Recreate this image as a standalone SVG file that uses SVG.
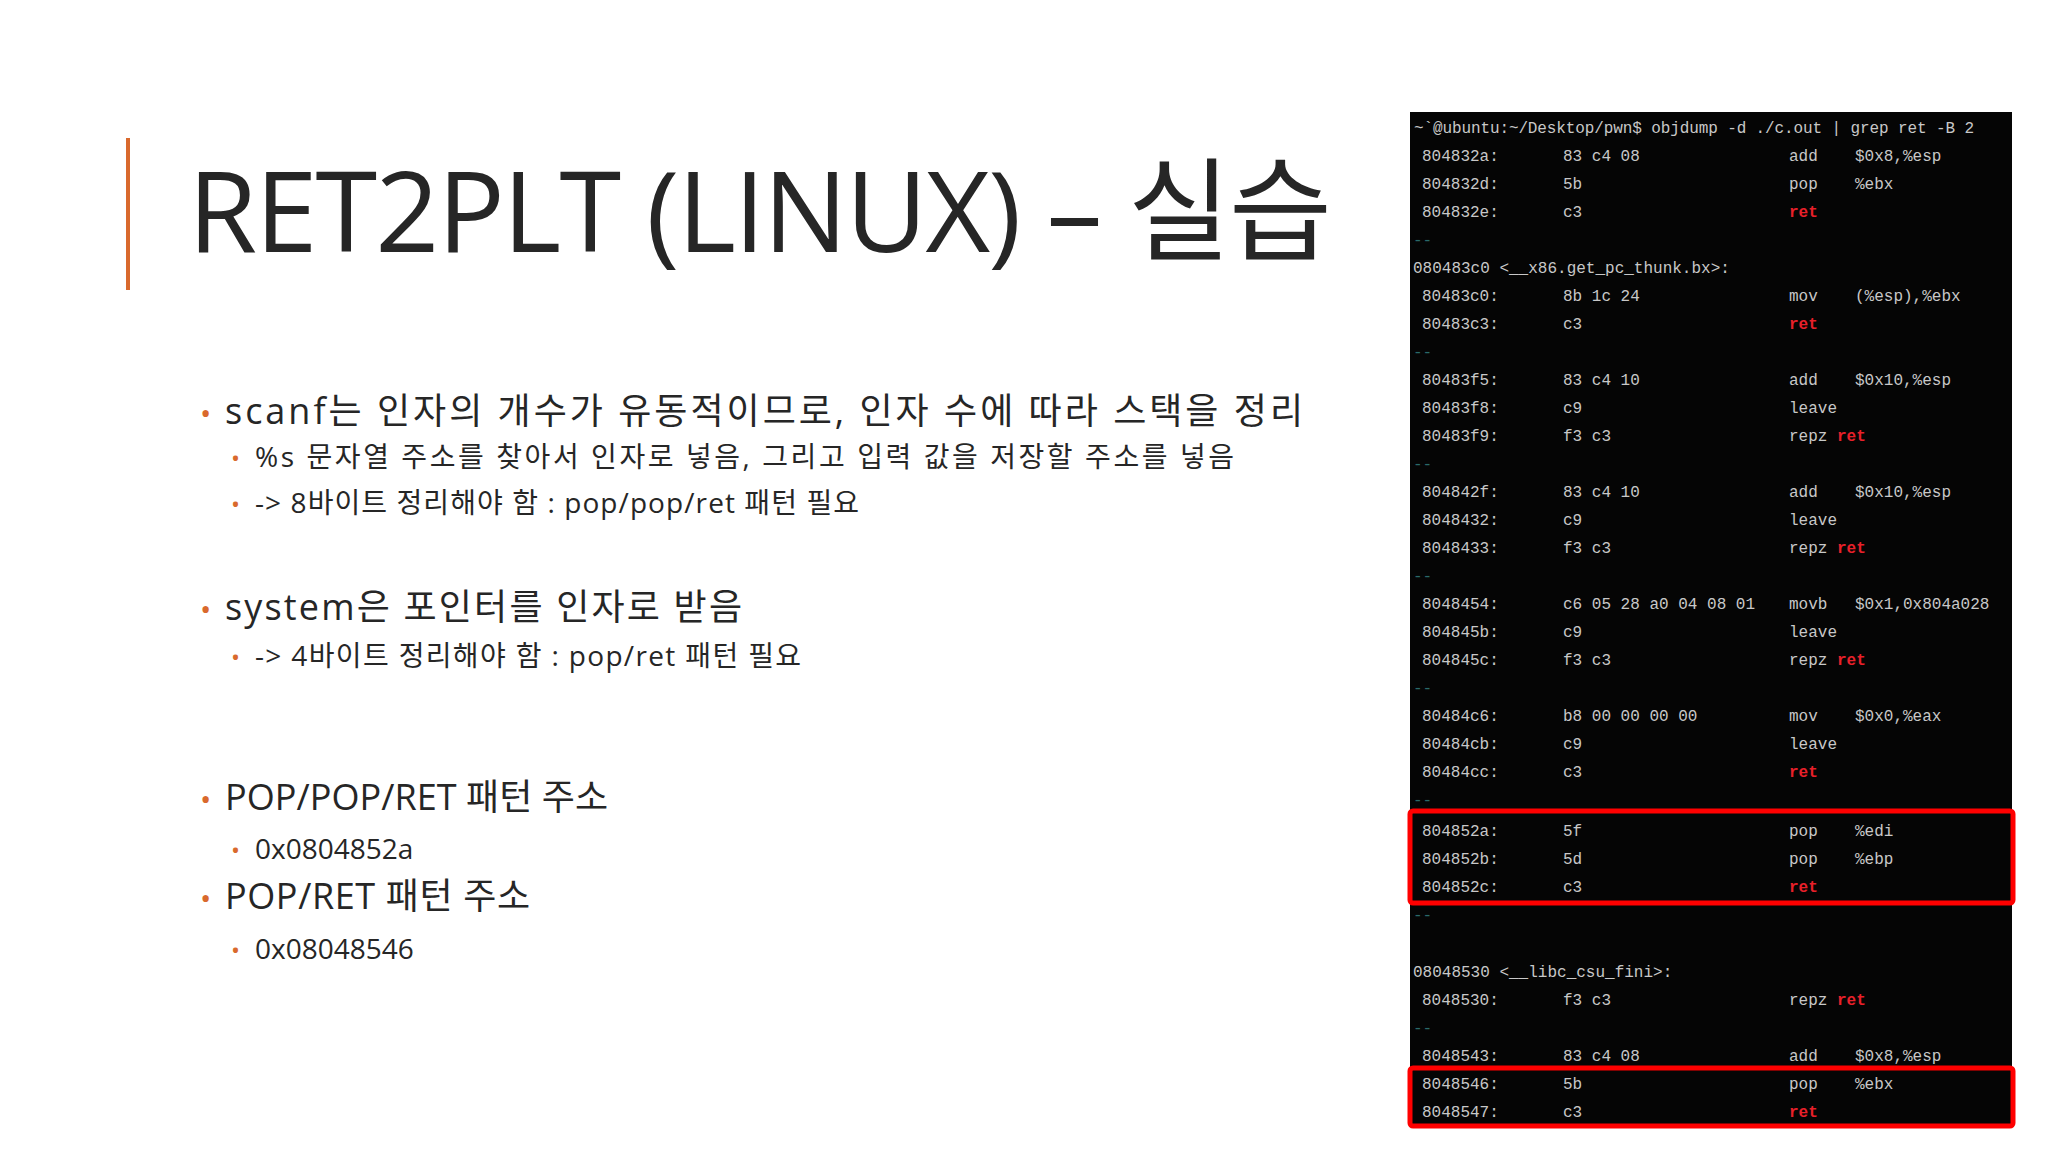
<svg xmlns="http://www.w3.org/2000/svg" width="2048" height="1152" viewBox="0 0 2048 1152">
<style>
.t{font-family:"Open Sans","Noto Sans CJK KR",sans-serif;fill:#262626}
.b{font-family:"Open Sans",sans-serif;fill:#D9692D}
.m{font-family:"Liberation Mono","DejaVu Sans Mono",monospace;font-size:16px;fill:#c8c8c8}
.r{fill:#e8202a;font-weight:bold}
.d{fill:#2a6a6a}
</style>
<rect width="2048" height="1152" fill="#ffffff"/>
<g id="title">
<rect x="126" y="138" width="4" height="152" fill="#D9692D"/>
<text class="t" x="188" y="252" font-size="112" textLength="1144">RET2PLT (LINUX) – 실습</text>
</g>
<g id="bullets">
<text class="b" x="200" y="424" font-size="30">•</text>
<text class="t" x="225" y="424" font-size="36" textLength="1078">scanf는 인자의 개수가 유동적이므로, 인자 수에 따라 스택을 정리</text>
<text class="b" x="231" y="467" font-size="24">•</text>
<text class="t" x="255" y="467" font-size="28" textLength="979">%s 문자열 주소를 찾아서 인자로 넣음, 그리고 입력 값을 저장할 주소를 넣음</text>
<text class="b" x="231" y="513" font-size="24">•</text>
<text class="t" x="255" y="513" font-size="28" textLength="604">-&gt; 8바이트 정리해야 함 : pop/pop/ret 패턴 필요</text>
<text class="b" x="200" y="620" font-size="30">•</text>
<text class="t" x="225" y="620" font-size="36" textLength="517">system은 포인터를 인자로 받음</text>
<text class="b" x="231" y="666" font-size="24">•</text>
<text class="t" x="255" y="666" font-size="28" textLength="546">-&gt; 4바이트 정리해야 함 : pop/ret 패턴 필요</text>
<text class="b" x="200" y="810" font-size="30">•</text>
<text class="t" x="225" y="810" font-size="36" textLength="383">POP/POP/RET 패턴 주소</text>
<text class="b" x="231" y="859" font-size="24">•</text>
<text class="t" x="255" y="859" font-size="28">0x0804852a</text>
<text class="b" x="200" y="909" font-size="30">•</text>
<text class="t" x="225" y="909" font-size="36" textLength="305">POP/RET 패턴 주소</text>
<text class="b" x="231" y="959" font-size="24">•</text>
<text class="t" x="255" y="959" font-size="28">0x08048546</text>
</g>
<g id="terminal">
<rect x="1410" y="112" width="602" height="1014" fill="#050505"/>
<text class="m" x="1414" y="133" textLength="560">~`@ubuntu:~/Desktop/pwn$ objdump -d ./c.out | grep ret -B 2</text>
<g class="m">
<text x="1422" y="161">804832a:</text><text x="1563" y="161">83 c4 08</text><text x="1789" y="161">add</text><text x="1855" y="161">$0x8,%esp</text>
<text x="1422" y="189">804832d:</text><text x="1563" y="189">5b</text><text x="1789" y="189">pop</text><text x="1855" y="189">%ebx</text>
<text x="1422" y="217">804832e:</text><text x="1563" y="217">c3</text><text x="1789" y="217" class="r">ret</text>
<text x="1413" y="245" class="d">--</text>
<text x="1413" y="273">080483c0 &lt;__x86.get_pc_thunk.bx&gt;:</text>
<text x="1422" y="301">80483c0:</text><text x="1563" y="301">8b 1c 24</text><text x="1789" y="301">mov</text><text x="1855" y="301">(%esp),%ebx</text>
<text x="1422" y="329">80483c3:</text><text x="1563" y="329">c3</text><text x="1789" y="329" class="r">ret</text>
<text x="1413" y="357" class="d">--</text>
<text x="1422" y="385">80483f5:</text><text x="1563" y="385">83 c4 10</text><text x="1789" y="385">add</text><text x="1855" y="385">$0x10,%esp</text>
<text x="1422" y="413">80483f8:</text><text x="1563" y="413">c9</text><text x="1789" y="413">leave</text>
<text x="1422" y="441">80483f9:</text><text x="1563" y="441">f3 c3</text><text x="1789" y="441">repz <tspan class="r">ret</tspan></text>
<text x="1413" y="469" class="d">--</text>
<text x="1422" y="497">804842f:</text><text x="1563" y="497">83 c4 10</text><text x="1789" y="497">add</text><text x="1855" y="497">$0x10,%esp</text>
<text x="1422" y="525">8048432:</text><text x="1563" y="525">c9</text><text x="1789" y="525">leave</text>
<text x="1422" y="553">8048433:</text><text x="1563" y="553">f3 c3</text><text x="1789" y="553">repz <tspan class="r">ret</tspan></text>
<text x="1413" y="581" class="d">--</text>
<text x="1422" y="609">8048454:</text><text x="1563" y="609">c6 05 28 a0 04 08 01</text><text x="1789" y="609">movb</text><text x="1855" y="609">$0x1,0x804a028</text>
<text x="1422" y="637">804845b:</text><text x="1563" y="637">c9</text><text x="1789" y="637">leave</text>
<text x="1422" y="665">804845c:</text><text x="1563" y="665">f3 c3</text><text x="1789" y="665">repz <tspan class="r">ret</tspan></text>
<text x="1413" y="693" class="d">--</text>
<text x="1422" y="721">80484c6:</text><text x="1563" y="721">b8 00 00 00 00</text><text x="1789" y="721">mov</text><text x="1855" y="721">$0x0,%eax</text>
<text x="1422" y="749">80484cb:</text><text x="1563" y="749">c9</text><text x="1789" y="749">leave</text>
<text x="1422" y="777">80484cc:</text><text x="1563" y="777">c3</text><text x="1789" y="777" class="r">ret</text>
<text x="1413" y="805" class="d">--</text>
<text x="1422" y="836">804852a:</text><text x="1563" y="836">5f</text><text x="1789" y="836">pop</text><text x="1855" y="836">%edi</text>
<text x="1422" y="864">804852b:</text><text x="1563" y="864">5d</text><text x="1789" y="864">pop</text><text x="1855" y="864">%ebp</text>
<text x="1422" y="892">804852c:</text><text x="1563" y="892">c3</text><text x="1789" y="892" class="r">ret</text>
<text x="1413" y="920" class="d">--</text>
<text x="1413" y="977">08048530 &lt;__libc_csu_fini&gt;:</text>
<text x="1422" y="1005">8048530:</text><text x="1563" y="1005">f3 c3</text><text x="1789" y="1005">repz <tspan class="r">ret</tspan></text>
<text x="1413" y="1033" class="d">--</text>
<text x="1422" y="1061">8048543:</text><text x="1563" y="1061">83 c4 08</text><text x="1789" y="1061">add</text><text x="1855" y="1061">$0x8,%esp</text>
<text x="1422" y="1089">8048546:</text><text x="1563" y="1089">5b</text><text x="1789" y="1089">pop</text><text x="1855" y="1089">%ebx</text>
<text x="1422" y="1117">8048547:</text><text x="1563" y="1117">c3</text><text x="1789" y="1117" class="r">ret</text>
</g>
<rect x="1410" y="811" width="603" height="92" fill="none" stroke="#ff0000" stroke-width="5" rx="3"/>
<rect x="1410" y="1068" width="603" height="58" fill="none" stroke="#ff0000" stroke-width="5" rx="3"/>
</g>
</svg>
